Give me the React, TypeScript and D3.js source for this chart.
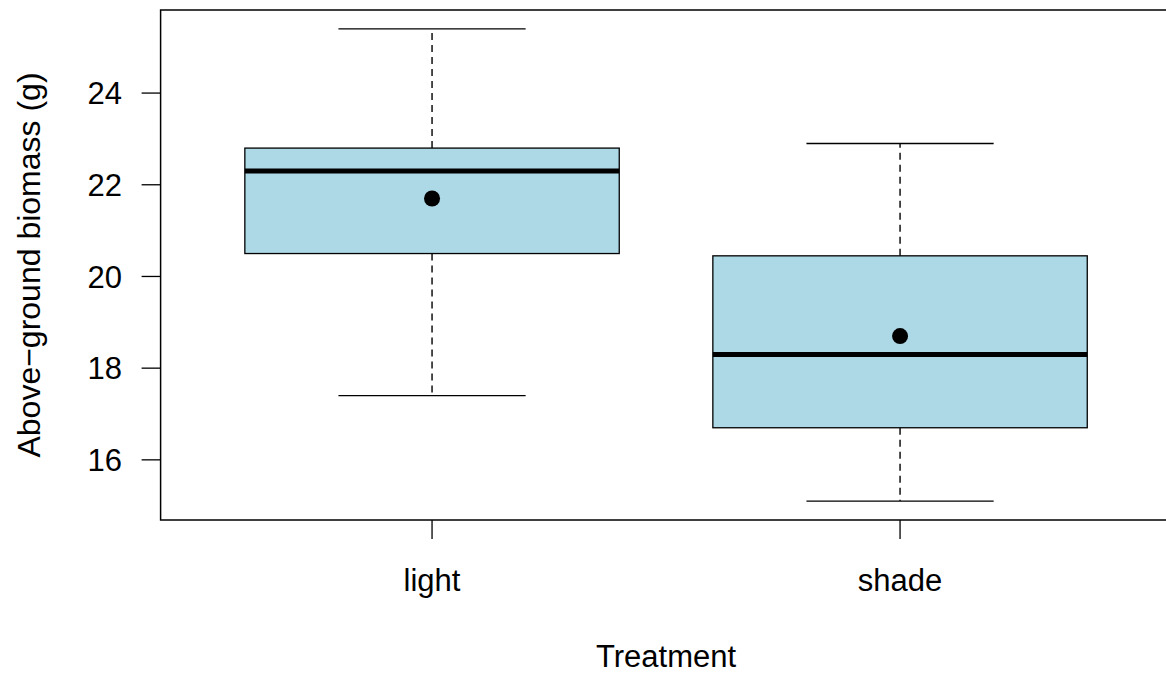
import React from 'react'
import * as d3 from 'd3'

const categories = ['light', 'shade']
const whiskerLow = [17.4, 15.1]
const lowerQuartile = [20.5, 16.7]
const medians = [22.3, 18.3]
const upperQuartile = [22.8, 20.45]
const whiskerHigh = [25.4, 22.9]
const means = [21.7, 18.7]
const yTicks = [16, 18, 20, 22, 24]

const width = 1166
const height = 676
const font = '"Liberation Sans", Arial, Helvetica, sans-serif'
const fontSize = 31

// R-style limits: data range padded by 4%
const yMin = d3.min(whiskerLow) as number
const yMax = d3.max(whiskerHigh) as number
const yPad = (yMax - yMin) * 0.04

const xScale = d3.scaleLinear()
  .domain([0.42, categories.length + 0.58])
  .range([160.6, 1171.5])

const yScale = d3.scaleLinear()
  .domain([yMin - yPad, yMax + yPad])
  .range([520, 10])

const boxWidth = xScale(0.8) - xScale(0)
const capWidth = boxWidth * 0.5

const Box = ({ index }: { index: number }) => {
  const cx = xScale(index + 1)
  const yLo = yScale(lowerQuartile[index])
  const yHi = yScale(upperQuartile[index])
  return (
    <g>
      <line x1={cx} x2={cx} y1={yHi} y2={yScale(whiskerHigh[index])}
        stroke='black' strokeWidth={1.4} strokeDasharray='7 5' />
      <line x1={cx} x2={cx} y1={yLo} y2={yScale(whiskerLow[index])}
        stroke='black' strokeWidth={1.4} strokeDasharray='7 5' />
      <line x1={cx - capWidth / 2} x2={cx + capWidth / 2}
        y1={yScale(whiskerHigh[index])} y2={yScale(whiskerHigh[index])}
        stroke='black' strokeWidth={1.4} />
      <line x1={cx - capWidth / 2} x2={cx + capWidth / 2}
        y1={yScale(whiskerLow[index])} y2={yScale(whiskerLow[index])}
        stroke='black' strokeWidth={1.4} />
      <rect x={cx - boxWidth / 2} y={yHi} width={boxWidth} height={yLo - yHi}
        fill='#ADD8E6' stroke='black' strokeWidth={1.3} />
      <line x1={cx - boxWidth / 2} x2={cx + boxWidth / 2}
        y1={yScale(medians[index])} y2={yScale(medians[index])}
        stroke='black' strokeWidth={5} />
      <circle cx={cx} cy={yScale(means[index])} r={8} fill='black' />
    </g>
  )
}

const App = () => {
  const [x0, x1] = xScale.range()
  const [y0, y1] = yScale.range()
  return (
    <svg width={width} height={height}
      style={{ position: 'absolute', left: 0, top: 0, background: 'white' }}
      fontFamily={font} fontSize={fontSize}>
      {categories.map((c, i) => <Box key={c} index={i} />)}
      <rect x={x0} y={y1} width={x1 - x0} height={y0 - y1}
        fill='none' stroke='black' strokeWidth={1.5} />
      {yTicks.map(t => (
        <g key={t}>
          <line x1={x0 - 19} x2={x0} y1={yScale(t)} y2={yScale(t)}
            stroke='black' strokeWidth={1.3} />
          <text x={122} y={yScale(t)} dy='0.36em' textAnchor='end'>{t}</text>
        </g>
      ))}
      {categories.map((c, i) => (
        <g key={c}>
          <line x1={xScale(i + 1)} x2={xScale(i + 1)} y1={y0} y2={y0 + 19}
            stroke='black' strokeWidth={1.3} />
          <text x={xScale(i + 1)} y={591} textAnchor='middle'>{c}</text>
        </g>
      ))}
      <text x={(x0 + x1) / 2} y={667} textAnchor='middle'>Treatment</text>
      <text transform={`translate(40, ${(y0 + y1) / 2}) rotate(-90)`}
        textAnchor='middle' fontSize={32}>Above−ground biomass (g)</text>
    </svg>
  )
}

export default App
